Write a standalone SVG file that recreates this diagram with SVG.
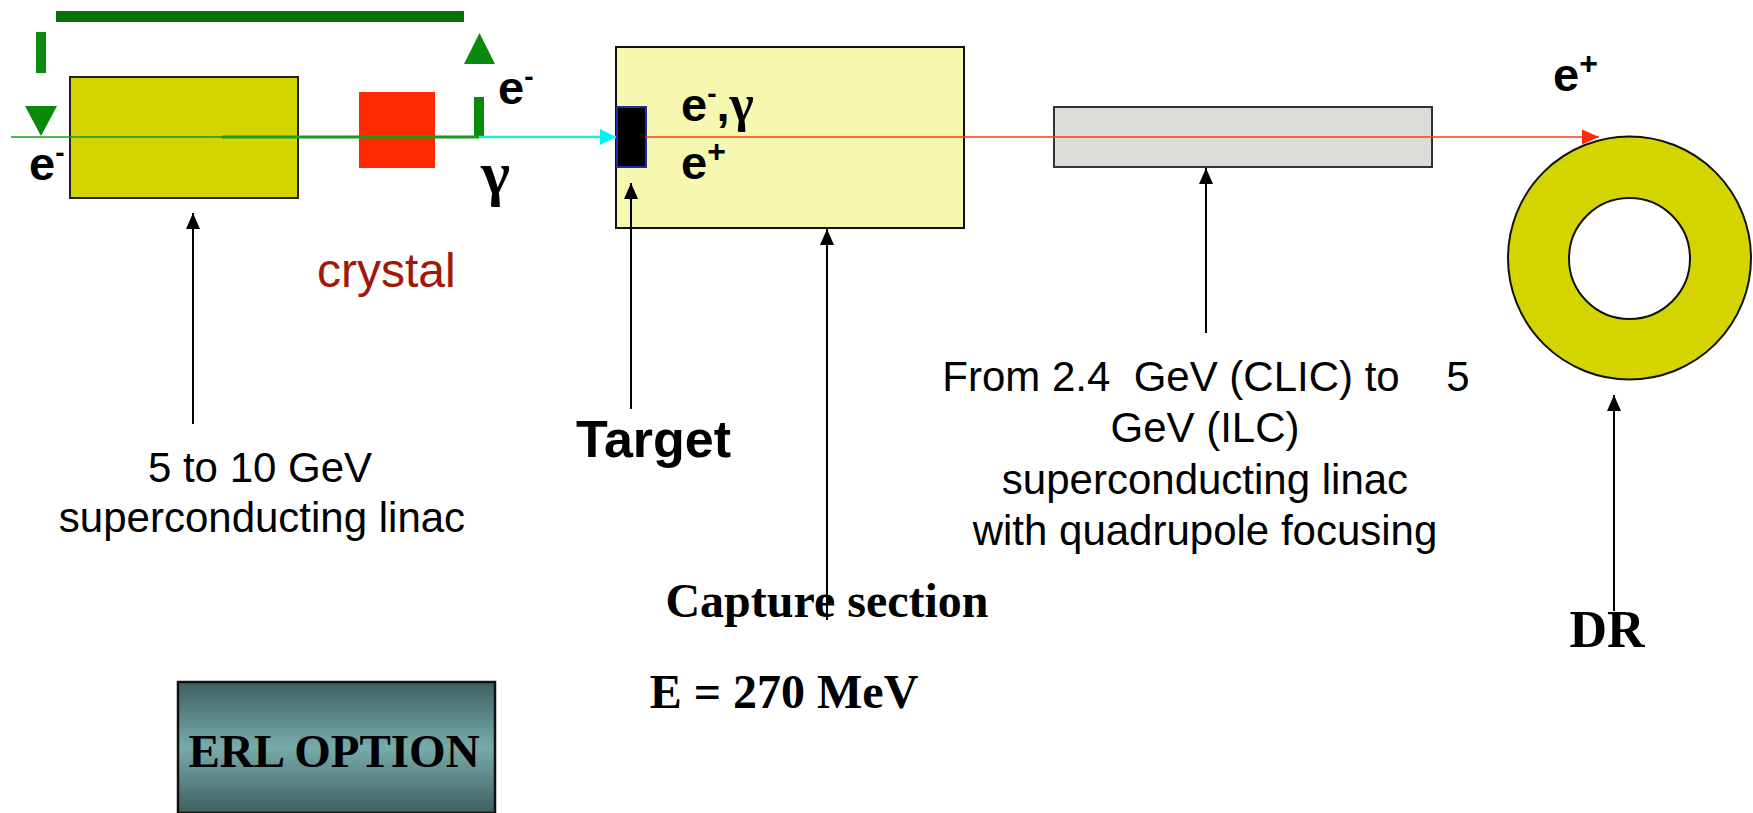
<svg xmlns="http://www.w3.org/2000/svg" width="1753" height="813" viewBox="0 0 1753 813">
<style>
.sans{font-family:"Liberation Sans",Arial,sans-serif}
.serif{font-family:"Liberation Serif","Times New Roman",serif;font-weight:bold}
.lbl{font-family:"Liberation Sans",Arial,sans-serif;font-weight:bold;font-size:47px;fill:#000}
.gam{font-family:"Liberation Serif","Times New Roman",serif;font-weight:bold}
.note{font-family:"Liberation Sans",Arial,sans-serif;font-size:42px;fill:#000;text-anchor:middle}
.ptr{stroke:#000;stroke-width:2;fill:none;marker-end:url(#ah)}
.green{fill:#0a8a0a}
</style>
<defs>
<marker id="ah" viewBox="0 0 16 14" refX="16" refY="7" markerWidth="16" markerHeight="14" markerUnits="userSpaceOnUse" orient="auto"><path d="M0,0 L16,7 L0,14 z" fill="#000"/></marker>
<marker id="ahRed" viewBox="0 0 17 15" refX="17" refY="7.5" markerWidth="17" markerHeight="15" markerUnits="userSpaceOnUse" orient="auto"><path d="M0,0 L17,7.5 L0,15 z" fill="#ff2a00"/></marker>
<marker id="ahCyan" viewBox="0 0 16 16" refX="16" refY="8" markerWidth="16" markerHeight="16" markerUnits="userSpaceOnUse" orient="auto"><path d="M0,0 L16,8 L0,16 z" fill="#00f4f4"/></marker>
<linearGradient id="erl" x1="0" y1="0" x2="0" y2="1">
<stop offset="0" stop-color="#3e5f5f"/>
<stop offset="0.5" stop-color="#78abab"/>
<stop offset="1" stop-color="#3e5f5f"/>
</linearGradient>
</defs>

<g id="erl-loop">
<rect x="56" y="11" width="408" height="11" fill="#037303"/>
<rect x="36" y="32" width="10" height="41" class="green"/>
<polygon points="25,106 57,106 41,136" class="green"/>
<rect x="474" y="97" width="10" height="40" class="green"/>
<polygon points="464,64 495,64 479.5,33" class="green"/>
</g>

<g id="drive-linac">
<rect x="70" y="77" width="228" height="121" fill="#d4d400" stroke="#222" stroke-width="2"/>
</g>

<g id="crystal-node">
<rect x="359" y="92" width="76" height="76" fill="#ff2a00"/>
</g>

<g id="capture">
<rect x="616" y="47" width="348" height="181" fill="#f7f8b0" stroke="#111" stroke-width="2"/>
</g>

<g id="target">
<rect x="617" y="107" width="29" height="60" fill="#000" stroke="#1f2fa0" stroke-width="2"/>
</g>

<g id="booster">
<rect x="1054" y="107" width="378" height="60" fill="#dcdbd8" stroke="#333" stroke-width="2"/>
</g>

<g id="dr">
<circle cx="1629.5" cy="258" r="91" fill="none" stroke="#d4d400" stroke-width="61"/>
<circle cx="1629.5" cy="258" r="121.5" fill="none" stroke="#111" stroke-width="2"/>
<circle cx="1629.5" cy="258.5" r="60.5" fill="#fff" stroke="#111" stroke-width="2"/>
</g>

<g id="connectors">
<line x1="11" y1="137" x2="222" y2="137" stroke="#1a9a1a" stroke-width="1.5"/>
<line x1="222" y1="137" x2="479" y2="137" stroke="#1a9a1a" stroke-width="3"/>
<line x1="479" y1="137" x2="616" y2="137" stroke="#2ae8c8" stroke-width="2.5" marker-end="url(#ahCyan)"/>
<line x1="646" y1="137" x2="1599" y2="137" stroke="#ff3a10" stroke-width="1.5" marker-end="url(#ahRed)"/>
<line x1="193" y1="424" x2="193" y2="213" class="ptr"/>
<line x1="631" y1="409" x2="631" y2="183" class="ptr"/>
<line x1="827" y1="620" x2="827" y2="229" class="ptr"/>
<line x1="1206" y1="333" x2="1206" y2="168" class="ptr"/>
<line x1="1614" y1="611" x2="1614" y2="395" class="ptr"/>
</g>

<g id="labels">
<text x="29" y="180" class="lbl">e<tspan font-size="28" dy="-18">-</tspan></text>
<text x="498" y="104" class="lbl">e<tspan font-size="28" dy="-18">-</tspan></text>
<text x="481" y="194" class="gam" font-size="62">γ</text>
<text x="681" y="121" class="lbl">e<tspan font-size="28" dy="-18">-</tspan><tspan dy="18">,</tspan><tspan class="gam" font-size="52">γ</tspan></text>
<text x="681" y="179" class="lbl">e<tspan font-size="32" dy="-17">+</tspan></text>
<text x="1553" y="91" class="lbl">e<tspan font-size="32" dy="-17">+</tspan></text>
<text x="317" y="287" class="sans" font-size="48" fill="#a01808">crystal</text>
<text x="260" y="482" class="note">5 to 10 GeV</text>
<text x="262" y="532" class="note">superconducting linac</text>
<text x="576" y="457" class="sans" font-weight="bold" font-size="52">Target</text>
<text x="827" y="617" class="serif" font-size="48" text-anchor="middle">Capture section</text>
<text x="784" y="708" class="serif" font-size="48" text-anchor="middle">E = 270 MeV</text>
<text x="1206" y="391" class="note" xml:space="preserve" style="white-space:pre">From 2.4  GeV (CLIC) to    5</text>
<text x="1205" y="442" class="note">GeV (ILC)</text>
<text x="1205" y="494" class="note">superconducting linac</text>
<text x="1205" y="545" class="note">with quadrupole focusing</text>
<text x="1607" y="647" class="serif" font-size="52" text-anchor="middle">DR</text>
</g>

<g id="erl-option">
<rect x="178" y="682" width="317" height="131" fill="url(#erl)" stroke="#111" stroke-width="2.5"/>
<text x="334" y="767" class="serif" font-size="47" text-anchor="middle">ERL OPTION</text>
</g>
</svg>
